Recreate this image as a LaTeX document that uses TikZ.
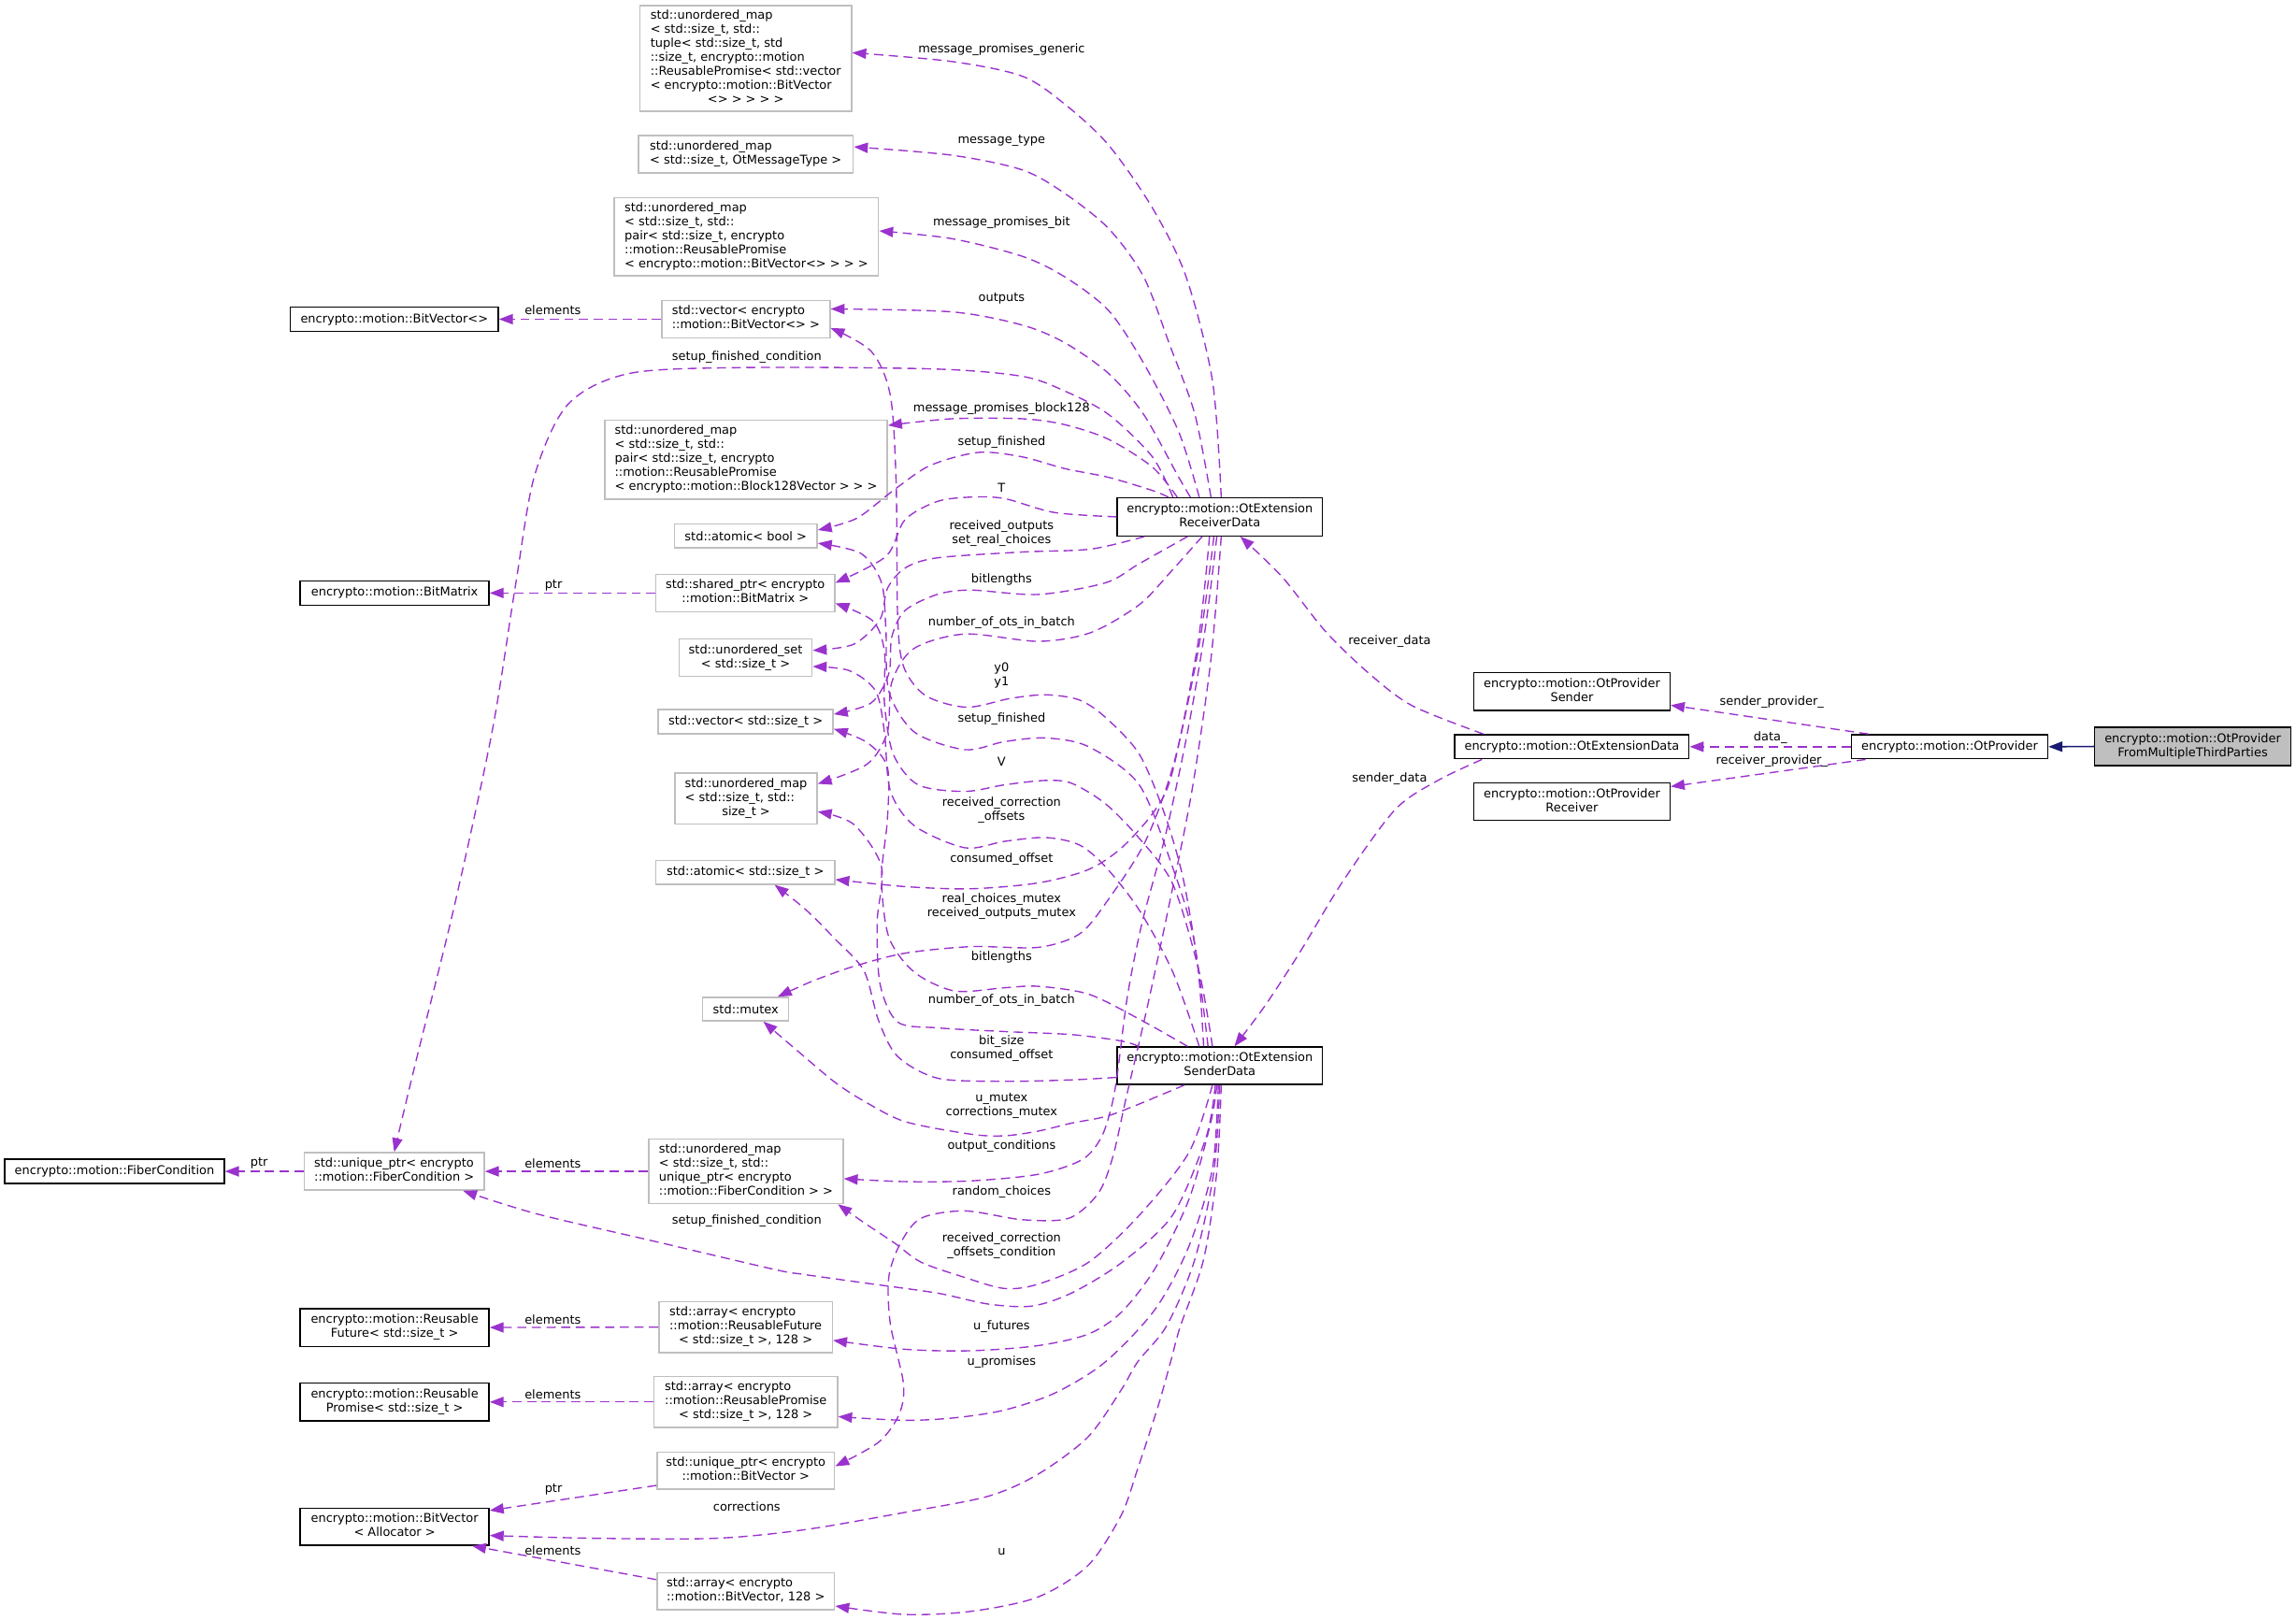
\documentclass[tikz,border=0pt]{standalone}
\usepackage{fontspec}
\setmainfont{DejaVu Sans}
\usetikzlibrary{arrows.meta,calc}
\definecolor{usePurple}{RGB}{154,50,205}
\definecolor{inhNavy}{RGB}{25,25,112}
\definecolor{undocGray}{RGB}{191,191,191}
\tikzset{
  doc/.style={draw=black, line width=0.35mm, fill=white, inner sep=0.5mm, font=\fontsize{9.4}{10.9}\selectfont},
  undoc/.style={draw=undocGray, line width=0.38mm, fill=white, inner sep=0.5mm, font=\fontsize{9.4}{10.9}\selectfont},
  focus/.style={doc, fill=undocGray},
  usage/.style={draw=usePurple, line width=0.35mm, dash pattern=on 2.5mm off 1.5mm, -{Triangle[length=3.8mm,width=2.8mm]}},
  inherit/.style={draw=inhNavy, line width=0.4mm, -{Triangle[length=3.8mm,width=2.8mm]}},
  elabel/.style={font=\fontsize{9.4}{10.9}\selectfont, align=center, inner sep=0pt}
}
% left-aligned lines, last line centred (doxygen labels)
\newcommand{\lastc}[2]{\begin{tabular}{@{}l@{}}#1\\\multicolumn{1}{@{}c@{}}{#2}\end{tabular}}

\begin{document}
\begin{tikzpicture}[x=0.4mm,y=-0.4mm]
  \useasboundingbox (0,0) rectangle (1568,1106);

  % Left column
  \node[doc, minimum width=56.8mm, minimum height=6.5mm] (bvgen) at (269.3,218) {encrypto::motion::BitVector<>};
  \node[doc, minimum width=51.6mm, minimum height=6.6mm] (bitmatrix) at (269.5,405) {encrypto::motion::BitMatrix};
  \node[doc, minimum width=60mm, minimum height=6.6mm] (fibercond) at (78.2,800) {encrypto::motion::FiberCondition};
  \node[undoc, minimum width=49.2mm, minimum height=10.2mm] (uptrfiber) at (269.2,800) {\lastc{std::unique\_ptr< encrypto}{::motion::FiberCondition >}};
  \node[doc, minimum width=51.6mm, minimum height=10.3mm] (rfuture) at (269.5,906.6) {\lastc{encrypto::motion::Reusable}{Future< std::size\_t >}};
  \node[doc, minimum width=51.6mm, minimum height=10.4mm] (rpromise) at (269.5,957.5) {\lastc{encrypto::motion::Reusable}{Promise< std::size\_t >}};
  \node[doc, minimum width=51.6mm, minimum height=10.1mm] (bvalloc) at (269.5,1042.7) {\lastc{encrypto::motion::BitVector}{< Allocator >}};

  % Member types
  \node[undoc, minimum width=57.8mm, minimum height=28.9mm] (mapgeneric) at (509.3,40) {\lastc{std::unordered\_map\\< std::size\_t, std::\\tuple< std::size\_t, std\\::size\_t, encrypto::motion\\::ReusablePromise< std::vector\\< encrypto::motion::BitVector}{<> > > > >}};
  \node[undoc, minimum width=58.7mm, minimum height=10.2mm] (mapmsgtype) at (509.3,105.3) {\lastc{std::unordered\_map}{< std::size\_t, OtMessageType >}};
  \node[undoc, minimum width=72.2mm, minimum height=21.4mm] (mapbit) at (509.7,161.7) {\lastc{std::unordered\_map\\< std::size\_t, std::\\pair< std::size\_t, encrypto\\::motion::ReusablePromise}{< encrypto::motion::BitVector<> > > >}};
  \node[undoc, minimum width=45.9mm, minimum height=10.3mm] (vecbv) at (509.4,218) {\lastc{std::vector< encrypto}{::motion::BitVector<> >}};
  \node[undoc, minimum width=77.2mm, minimum height=21.6mm] (mapblock) at (509.5,314) {\lastc{std::unordered\_map\\< std::size\_t, std::\\pair< std::size\_t, encrypto\\::motion::ReusablePromise}{< encrypto::motion::Block128Vector > > >}};
  \node[undoc, minimum width=39mm, minimum height=6.5mm] (atombool) at (509.3,366) {std::atomic< bool >};
  \node[undoc, minimum width=48.8mm, minimum height=10.2mm] (sptrbm) at (509,405) {\lastc{std::shared\_ptr< encrypto}{::motion::BitMatrix >}};
  \node[undoc, minimum width=36.3mm, minimum height=10.2mm] (usetsz) at (509.2,449.2) {\lastc{std::unordered\_set}{< std::size\_t >}};
  \node[undoc, minimum width=47.8mm, minimum height=6.6mm] (vecsz) at (509.2,492.8) {std::vector< std::size\_t >};
  \node[undoc, minimum width=38.8mm, minimum height=13.9mm] (mapszsz) at (509.5,545.3) {\lastc{std::unordered\_map\\< std::size\_t, std::}{size\_t >}};
  \node[undoc, minimum width=48.8mm, minimum height=6.5mm] (atomsz) at (509,595.7) {std::atomic< std::size\_t >};
  \node[undoc, minimum width=23.5mm, minimum height=6.4mm] (mtx) at (509.3,689.2) {std::mutex};
  \node[undoc, minimum width=53.1mm, minimum height=17.6mm] (mapfiber) at (509.4,800) {\lastc{std::unordered\_map\\< std::size\_t, std::\\unique\_ptr< encrypto}{::motion::FiberCondition > >}};
  \node[undoc, minimum width=47.4mm, minimum height=13.9mm] (arrfut) at (509.2,906.4) {\lastc{std::array< encrypto\\::motion::ReusableFuture}{< std::size\_t >, 128 >}};
  \node[undoc, minimum width=50.1mm, minimum height=14mm] (arrprom) at (509.3,957.5) {\lastc{std::array< encrypto\\::motion::ReusablePromise}{< std::size\_t >, 128 >}};
  \node[undoc, minimum width=48.5mm, minimum height=10.1mm] (uptrbv) at (509.3,1004.4) {\lastc{std::unique\_ptr< encrypto}{::motion::BitVector >}};
  \node[undoc, minimum width=48.5mm, minimum height=10mm] (arrbv) at (509.3,1086.8) {\lastc{std::array< encrypto}{::motion::BitVector, 128 >}};

  % Data classes and providers
  \node[doc, minimum width=56mm, minimum height=10.4mm] (rcv) at (833,353) {\lastc{encrypto::motion::OtExtension}{ReceiverData}};
  \node[doc, minimum width=56mm, minimum height=10.2mm] (snd) at (833,727.8) {\lastc{encrypto::motion::OtExtension}{SenderData}};
  \node[doc, minimum width=64mm, minimum height=6.6mm] (extdata) at (1073.5,510) {encrypto::motion::OtExtensionData};
  \node[doc, minimum width=53.6mm, minimum height=10.3mm] (provsnd) at (1073.5,472.3) {\lastc{encrypto::motion::OtProvider}{Sender}};
  \node[doc, minimum width=53.6mm, minimum height=10.3mm] (provrcv) at (1073.5,547.5) {\lastc{encrypto::motion::OtProvider}{Receiver}};
  \node[doc, minimum width=53.6mm, minimum height=6.6mm] (prov) at (1331.5,510) {encrypto::motion::OtProvider};
  \node[focus, minimum width=53.6mm, minimum height=10.4mm] (main) at (1497.5,509.8) {\lastc{encrypto::motion::OtProvider}{FromMultipleThirdParties}};

  % Short edges on the left
  \draw[usage] (vecbv.west) -- (bvgen.east);
  \draw[usage] (sptrbm.west) -- (bitmatrix.east);
  \draw[usage] (uptrfiber.west) -- (fibercond.east);
  \draw[usage] (mapfiber.west) -- (uptrfiber.east);
  \draw[usage] (arrfut.west) -- (rfuture.east);
  \draw[usage] (arrprom.west) -- (rpromise.east);
  \draw[usage] ($(uptrbv.south west)+(0,-3)$) -- ($(bvalloc.north east)+(0,2)$);
  \draw[usage] ($(arrbv.west)+(0,-8)$) -- ($(bvalloc.south east)+(-12,0)$);
  \node[elabel] (lel1) at (377.5,212) {elements};
  \node[elabel] (lptr1) at (378,400) {ptr};
  \node[elabel] (lptr2) at (177,794.6) {ptr};
  \node[elabel] (lel2) at (377.5,794.6) {elements};
  \node[elabel] (lel3) at (377.5,901.3) {elements};
  \node[elabel] (lel4) at (377.5,952.2) {elements};
  \node[elabel] (lptr3) at (378,1017) {ptr};
  \node[elabel] (lel5) at (377.5,1058.9) {elements};

  % ReceiverData members
  \draw[usage] plot[smooth] coordinates {($(rcv.north)+(1,0)$) (828,260) (810,189) (787,142) (757,99) (727,71) (698,52) (650,42) ($(mapgeneric.east)+(0,-4)$)};
  \draw[usage] plot[smooth] coordinates {($(rcv.north)+(-6,0)$) (816,283) (799,236) (781,189) (757,156) (727,132) (698,116) (650,106) ($(mapmsgtype.east)+(0,-5)$)};
  \draw[usage] plot[smooth] coordinates {($(rcv.north)+(-14,0)$) (805,295) (781,248) (757,212) (727,189) (698,175) (650,163) ($(mapbit.east)+(0,-4)$)};
  \draw[usage] plot[smooth] coordinates {($(rcv.north)+(-20,0)$) (805,326) (781,283) (757,255) (727,234) (698,222) (650,213) ($(vecbv.east)+(0,-7)$)};
  \draw[usage] plot[smooth] coordinates {($(rcv.north)+(-32,0)$) (787,312) (757,283) (727,267) (698,257) (638,252) (510,251) (430,255) (388,276) (365,325) (352,400) (336,500) (310,620) (284,725) (uptrfiber.north)};
  \draw[usage] plot[smooth] coordinates {($(rcv.north)+(-29,0)$) (787,319) (757,300) (727,290) (698,286) (650,286) ($(mapblock.north east)+(0,4)$)};
  \draw[usage] plot[smooth] coordinates {($(rcv.north)+(-35,0)$) (787,335) (757,326) (727,320) (698,312) (668,309) (635,318) (610,335) (585,354) ($(atombool.east)+(0,-4)$)};
  \draw[usage] plot[smooth] coordinates {(rcv.west) (720,350) (686,340.5) (663,339.5) (640,342.5) (618,355) (605,380) ($(sptrbm.east)+(0,-7)$)};
  \draw[usage] plot[smooth] coordinates {($(rcv.south west)+(19,0)$) (745,375) (698,377) (640,381) (618,388) (606,402) (601,423) (583,440) ($(usetsz.east)+(0,-5)$)};
  \draw[usage] plot[smooth] coordinates {($(rcv.south)+(-22,0)$) (778,385) (755,398) (709,406) (663,403) (640,406) (618,417) (609,435) (607,460) (595,480) ($(vecsz.east)+(0,-5)$)};
  \draw[usage] plot[smooth] coordinates {($(rcv.south)+(-12,0)$) (800,390) (778,413) (745,432) (709,438) (659,433) (624,443) (609,466) (606,500) (592,522) ($(mapszsz.east)+(0,-10)$)};
  \draw[usage] plot[smooth] coordinates {($(rcv.south)+(-7,0)$) (818,440) (801,526) (789,553) (766,579) (743,594) (709,603) (663,607) (618,605.5) ($(atomsz.east)+(0,5)$)};
  \draw[usage] plot[smooth] coordinates {($(rcv.south)+(-4,0)$) (819,440) (802,520) (782,575) (755,617) (737,638) (709,647) (663,646.5) (618,651) (583,660) (555,670) ($(mtx.north east)+(-8,0)$)};
  \draw[usage] plot[smooth] coordinates {($(rcv.south)+(-2,0)$) (823,430) (811,500) (796,570) (780,630) (770,680) (763,734) (759,756) (752,777) (739,792) (709,802) (663,806.5) (618,807) ($(mapfiber.east)+(0,5)$)};
  \draw[usage] plot[smooth] coordinates {($(rcv.south)+(1,0)$) (827,450) (814,540) (798,620) (783,690) (769,750) (760,790) (750,815) (730,832) (698,833) (659,827) (629,832) (615,849) (607,872) (608,904) (617,945) (614,966) (600,985) ($(uptrbv.east)+(0,-3)$)};
  \node[elabel] (lmpg) at (684,34) {message\_promises\_generic};
  \node[elabel] (lmt) at (684,96) {message\_type};
  \node[elabel] (lmpb) at (684,152) {message\_promises\_bit};
  \node[elabel] (lout) at (684,204) {outputs};
  \node[elabel] (lsfc1) at (510,244) {setup\_finished\_condition};
  \node[elabel] (lmpbl) at (684,279) {message\_promises\_block128};
  \node[elabel] (lsf1) at (684,302) {setup\_finished};
  \node[elabel] (lT) at (684,333) {T};
  \node[elabel] (lro) at (684,364) {received\_outputs\\set\_real\_choices};
  \node[elabel] (lbl1) at (684,396) {bitlengths};
  \node[elabel] (lnot1) at (684,425) {number\_of\_ots\_in\_batch};
  \node[elabel] (lco1) at (684,587) {consumed\_offset};
  \node[elabel] (lrcm) at (684,619) {real\_choices\_mutex\\received\_outputs\_mutex};
  \node[elabel] (loc) at (684,783) {output\_conditions};
  \node[elabel] (lrc) at (684,814) {random\_choices};

  % SenderData members
  \draw[usage] plot[smooth] coordinates {($(snd.north)+(-11,0)$) (818,660) (808,600) (795,555) (778,515) (755,490) (737,478) (714,474.5) (690,477) (660,483) (632,475) (617,455) (613,420) (612,330) (608,270) (595,240) ($(vecbv.east)+(0,6)$)};
  \draw[usage] plot[smooth] coordinates {($(snd.north)+(-8,0)$) (815,640) (800,590) (778,536) (743.5,510) (714,504) (686,506.5) (659,512) (624.5,500) (607,472) (605,430) (602,398) (588,378) ($(atombool.east)+(0,5)$)};
  \draw[usage] plot[smooth] coordinates {($(snd.north)+(-5,0)$) (819,664) (801,604) (778,572.5) (755,549) (732,535) (714,533) (686,536) (659,540.5) (627,536) (610,515) (604,480) (604,445) (596,424) ($(sptrbm.east)+(0,7)$)};
  \draw[usage] plot[smooth] coordinates {($(snd.north)+(-14,0)$) (801,664) (778,621.5) (755,592) (737,577) (714,572) (686,574.6) (659,579) (624.5,564) (608,540) (604,500) (598,472) (580,458) ($(usetsz.east)+(0,6)$)};
  \draw[usage] plot[smooth] coordinates {($(snd.north)+(-22,0)$) (778,696) (743.5,679) (709,673.6) (686,674.6) (652,676.8) (624.5,664) (607,640) (602,600) (606,560) (606,524) (592,507) ($(vecsz.east)+(0,5)$)};
  \draw[usage] plot[smooth] coordinates {($(snd.north west)+(15,0)$) (766,711) (732,706.6) (686,704.5) (640.5,702) (613,698) (601,672) (599,630) (602,592) (583,563) ($(mapszsz.east)+(0,9)$)};
  \draw[usage] plot[smooth] coordinates {($(snd.west)+(0,8)$) (732,737.5) (686,738.5) (640.5,736.4) (613,721.5) (600,697) (590,663) (570,641) (550,621) ($(atomsz.south)+(20,0)$)};
  \draw[usage] plot[smooth] coordinates {($(snd.south)+(-24,0)$) (760,761) (732,767) (709,772.5) (686,775.7) (663,774.6) (618,766) (590,752) (570,739) (545,718) ($(mtx.south)+(12,0)$)};
  \draw[usage] plot[smooth] coordinates {($(snd.south)+(-3,0)$) (823.6,777) (800.7,830) (766.4,862) (732,883) (704.6,892) (674.8,890.6) (640.5,883.2) (594.8,876.8) (549,870.4) (529,867) (448,848) (366.5,829) ($(uptrfiber.south east)+(-15,0)$)};
  \draw[usage] plot[smooth] coordinates {($(snd.south)+(-5,0)$) (812,787) (778,830) (743.5,862) (709,877) (686,880) (659,872.5) (629,862) (611,849) (590,835) ($(mapfiber.south east)+(-4,0)$)};
  \draw[usage] plot[smooth] coordinates {($(snd.south)+(-2,0)$) (827,766) (812,819) (789,866) (766,896) (743.5,911) (709,919) (663,922.5) (618,921.5) ($(arrfut.east)+(0,9)$)};
  \draw[usage] plot[smooth] coordinates {($(snd.south)+(-1,0)$) (828,798) (812,851) (789,894) (755,930) (720.6,951.3) (686,963) (652,968.3) (618,970) ($(arrprom.east)+(0,10)$)};
  \draw[usage] plot[smooth] coordinates {(snd.south) (829,800) (816,860) (797,905) (777,930) (765.6,949.4) (742.8,981.6) (708.6,1007) (674.4,1022) (617.4,1033) (549,1044.8) (488.6,1050.6) (407,1050.6) ($(bvalloc.east)+(0,6)$)};
  \draw[usage] plot[smooth] coordinates {($(snd.south)+(1,0)$) (831,800) (822,860) (806,906) (800,928) (791,960) (777,1003) (765.6,1035) (742.8,1069.4) (708.6,1090.8) (663,1100.5) (617.4,1102.6) ($(arrbv.east)+(0,10)$)};
  \node[elabel] (ly) at (684,461) {y0\\y1};
  \node[elabel] (lsf2) at (684,491) {setup\_finished};
  \node[elabel] (lV) at (684,520) {V};
  \node[elabel] (lrco) at (684,553) {received\_correction\\\_offsets};
  \node[elabel] (lbl2) at (684,654) {bitlengths};
  \node[elabel] (lnot2) at (684,683) {number\_of\_ots\_in\_batch};
  \node[elabel] (lbs) at (684,716) {bit\_size\\consumed\_offset};
  \node[elabel] (lum) at (684,755) {u\_mutex\\corrections\_mutex};
  \node[elabel] (lsfc2) at (510,834) {setup\_finished\_condition};
  \node[elabel] (lrcoc) at (684,851) {received\_correction\\\_offsets\_condition};
  \node[elabel] (luf) at (684,906) {u\_futures};
  \node[elabel] (lup) at (684,930) {u\_promises};
  \node[elabel] (lcor) at (510,1029) {corrections};
  \node[elabel] (lu) at (684,1060) {u};

  % Extension data and providers
  \draw[usage] plot[smooth] coordinates {($(extdata.north west)+(20,0)$) (964.5,482) (935,460) (905,431) (875.6,394) ($(rcv.south)+(14,0)$)};
  \draw[usage] plot[smooth] coordinates {($(extdata.south west)+(19,0)$) (982,533) (952.7,553) (917,602) (887.5,650.7) (863.8,687) ($(snd.north)+(10,0)$)};
  \draw[usage] ($(prov.north west)+(12,0)$) -- ($(provsnd.south east)+(0,-4)$);
  \draw[usage] (prov.west) -- (extdata.east);
  \draw[usage] ($(prov.south west)+(10,0)$) -- ($(provrcv.north east)+(0,3)$);
  \draw[inherit] (main.west) -- (prov.east);
  \node[elabel] (lrd) at (949,438) {receiver\_data};
  \node[elabel] (lsd) at (949,532) {sender\_data};
  \node[elabel] (lsp) at (1210,479.5) {sender\_provider\_};
  \node[elabel] (ldata) at (1209,504) {data\_};
  \node[elabel] (lrp) at (1210,520) {receiver\_provider\_};
\end{tikzpicture}
\end{document}
